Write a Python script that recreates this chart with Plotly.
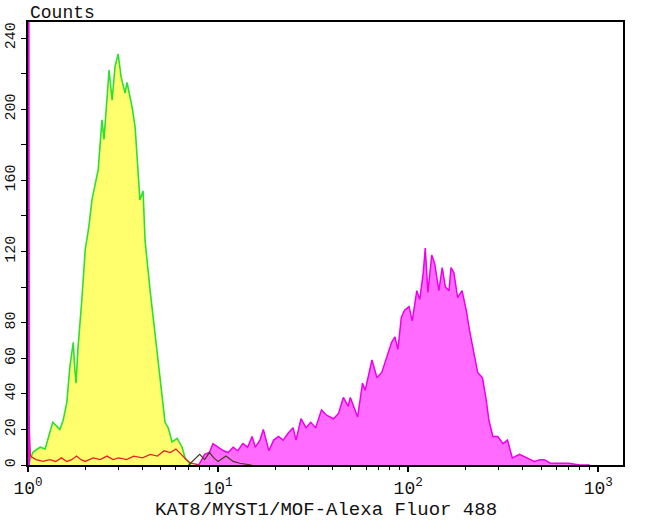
import plotly.graph_objects as go

# ---- data (fluorescence intensity, counts) ----
green_x = [1.0, 1.06, 1.12, 1.16, 1.23, 1.29, 1.35, 1.41, 1.47, 1.53, 1.60, 1.66, 1.73, 1.76, 1.79, 1.83, 1.88,
           1.92, 2.00, 2.05, 2.09, 2.17, 2.25, 2.34, 2.45, 2.51, 2.60, 2.67, 2.77, 2.87, 2.98, 3.09, 3.24,
           3.32, 3.53, 3.66, 3.75, 3.88, 4.03, 4.13, 4.39, 4.66, 4.95, 5.26, 5.46, 5.73, 6.09, 6.47,
           6.70, 6.95, 7.2]
green_y = [0, 7, 9, 10, 9, 16, 24, 22, 20, 25, 35, 55, 69, 55, 46, 65, 80,
           93, 121, 128, 134, 149, 158, 166, 194, 183, 205, 222, 205, 224, 231, 218, 209,
           215, 201, 190, 173, 149, 154, 126, 98, 74, 49, 24, 21, 13, 15, 10,
           4, 2, 0]

red_x = [1.0, 1.01, 1.03, 1.1, 1.2, 1.3, 1.4, 1.5, 1.6, 1.7, 1.8, 1.9, 2.0, 2.2, 2.4, 2.6, 2.8, 3.0,
         3.3, 3.6, 4.0, 4.4, 4.8, 5.2, 5.6, 6.0, 6.4, 6.8, 7.2, 8.0]
red_y = [27, 27, 5, 3, 2, 3, 2, 4, 2, 3, 5, 3, 2, 4, 3, 5, 3, 4,
         3, 5, 4, 6, 5, 8, 7, 9, 6, 3, 1, 0]

dark_x = [7.0, 7.5, 8.0, 8.5, 9.0, 9.5, 10.0, 11.0, 12.0, 13.0, 15.0]
dark_y = [0, 3, 6, 3, 7, 4, 2, 5, 2, 1, 0]

mag_x = [7.9, 8.5, 9.0, 9.4, 10.0, 10.7, 11.3, 12.0, 12.7, 13.5, 14.3, 15.1, 15.7, 16.6, 17.3, 18.5,
         19.6, 20.8, 22.0, 23.4, 24.8, 25.7, 27.3, 29.0, 30.7, 32.6, 35.0, 37.2, 40.5, 43.0,
         45.6, 48.4, 49.6, 54.2, 57.5, 59.4, 64.5, 68.5, 72.6, 77.0, 81.8, 85.2, 88.3, 92.0,
         95.7, 101, 105, 111, 115, 120, 123, 127, 133, 138, 145, 151, 157, 164, 168, 174,
         182, 192, 202, 210, 219, 232, 246, 257, 266, 279, 296, 315, 333, 353, 385, 420, 460,
         495, 520, 560, 620, 700, 800, 900]
mag_y = [0, 6, 7, 12, 10, 8, 7, 10, 8, 12, 10, 16, 10, 14, 20, 8,
         14, 16, 14, 18, 21, 14, 26, 21, 24, 21, 31, 28, 26, 29,
         38, 33, 38, 27, 46, 42, 59, 49, 52, 61, 69, 72, 65, 83,
         87, 89, 81, 98, 93, 108, 122, 97, 118, 113, 98, 111, 100, 98, 111, 108,
         94, 98, 87, 76, 65, 52, 49, 37, 25, 16, 16, 12, 14, 4, 6, 4,
         2, 3, 3, 1, 1, 1, 0, 0]

edge_x = [1.0, 1.005, 1.012]
edge_y = [400, 400, 0]

y_tick_vals = [0, 20, 40, 60, 80, 100, 120, 140, 160, 180, 200, 220, 240]
y_tick_text = ["0", "20", "40", "60", "80", "", "120", "", "160", "", "200", "", "240"]
x_tick_vals = [1, 10, 100, 1000]
x_tick_text = ["10<sup>0</sup>", "10<sup>1</sup>", "10<sup>2</sup>", "10<sup>3</sup>"]
x_minor_vals = [m * d for d in (1, 10, 100, 1000) for m in range(2, 10)]

FONT = "Liberation Mono, Courier New, monospace"

fig = go.Figure()
fig.add_trace(go.Scatter(x=green_x, y=green_y, mode="lines", fill="tozeroy",
                         fillcolor="#FFFF6E", line=dict(color="#2EE02E", width=1.6),
                         hoverinfo="skip"))
fig.add_trace(go.Scatter(x=red_x, y=red_y, mode="lines",
                         line=dict(color="#E8202A", width=1.3), hoverinfo="skip"))
fig.add_trace(go.Scatter(x=mag_x, y=mag_y, mode="lines", fill="tozeroy",
                         fillcolor="#FF6BFF", line=dict(color="#EE00EE", width=1.5),
                         hoverinfo="skip"))
fig.add_trace(go.Scatter(x=dark_x, y=dark_y, mode="lines",
                         line=dict(color="#4a3a20", width=1.2), hoverinfo="skip"))
fig.add_trace(go.Scatter(x=edge_x, y=edge_y, mode="lines", fill="tozeroy",
                         fillcolor="#EE00EE", line=dict(color="#EE00EE", width=2),
                         hoverinfo="skip"))

fig.update_layout(
    width=650, height=520,
    margin=dict(l=28, r=27, t=22, b=55),
    paper_bgcolor="white", plot_bgcolor="white",
    showlegend=False,
    font=dict(family=FONT, color="#111"),
)
fig.update_xaxes(
    type="log", range=[0, 3.13], automargin=False,
    showgrid=False, zeroline=False,
    showline=True, linecolor="black", linewidth=2, mirror=True,
    ticks="outside", ticklen=5, tickwidth=1.5, tickcolor="black",
    tickvals=x_tick_vals, ticktext=x_tick_text,
    tickfont=dict(family=FONT, size=18, color="#111"),
    minor=dict(tickvals=x_minor_vals, ticks="outside", ticklen=3, tickcolor="black", tickwidth=1.2),
)
fig.update_yaxes(
    range=[0, 249], automargin=False,
    showgrid=False, zeroline=False,
    showline=True, linecolor="black", linewidth=1.5, mirror=True,
    ticks="outside", ticklen=5, tickwidth=1.2, tickcolor="black",
    tickvals=y_tick_vals, ticktext=y_tick_text, tickangle=-90,
    tickfont=dict(family=FONT, size=15, color="#111"),
)
fig.add_annotation(text="Counts", xref="paper", yref="paper", x=0, y=1,
                   xanchor="left", yanchor="bottom", showarrow=False, yshift=-3,
                   font=dict(family=FONT, size=18, color="#111"))
fig.add_annotation(text="KAT8/MYST1/MOF-Alexa Fluor 488", xref="paper", yref="paper",
                   x=0.5, y=0, xanchor="center", yanchor="top", showarrow=False, yshift=-32,
                   font=dict(family=FONT, size=19, color="#111"))

fig.write_html("out.html", config={"displayModeBar": False},
               post_script="document.body.style.margin='0px';")
